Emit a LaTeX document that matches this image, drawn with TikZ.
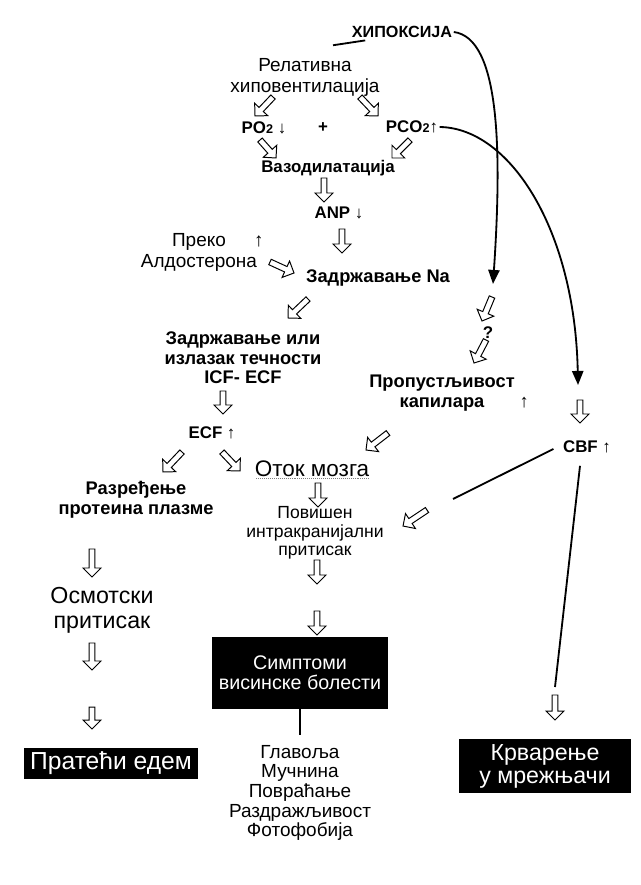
\documentclass[tikz,border=0pt]{standalone}
\usepackage{fontspec}
\setmainfont{Liberation Sans}
\usepackage{tikz}
\usetikzlibrary{arrows.meta,calc}

\newcommand{\fs}[2]{\fontsize{#1pt}{#2pt}\selectfont}
\newcommand{\harrow}[3]{%
  \coordinate (#1a) at (#2);
  \coordinate (#1b) at (#3);
  \draw[hol] ($(#1a)!2.1pt!90:(#1b)$) -- ($(#1b)!6.4pt!(#1a)!2.1pt!-90:(#1a)$)
    -- ($(#1b)!6.4pt!(#1a)!6.4pt!-90:(#1a)$) -- (#1b)
    -- ($(#1b)!6.4pt!(#1a)!6.4pt!90:(#1a)$) -- ($(#1b)!6.4pt!(#1a)!2.1pt!90:(#1a)$)
    -- ($(#1a)!2.1pt!-90:(#1b)$) -- cycle;}

\begin{document}
\begin{tikzpicture}[
  x=0.025cm, y=-0.025cm,
  lab/.style={align=center,inner sep=1pt,font=\fs{13}{14}\bfseries},
  sm/.style={align=center,inner sep=1pt,font=\fs{12}{13}\bfseries},
  txt/.style={align=center,inner sep=1pt,font=\fs{13.5}{15}},
  big/.style={align=center,inner sep=1pt,font=\fs{16.5}{17.7}},
  blk/.style={fill=black,text=white,align=center,inner sep=0pt},
  hol/.style={draw,line width=0.7pt,fill=white},
  ln/.style={line width=1.3pt},
  arr/.style={line width=1.3pt,-{Triangle[length=10pt,width=8pt]}}
]
\fill[white] (0,0) rectangle (640,885);
\useasboundingbox (0,0) rectangle (640,885);

\node[sm,font=\fs{11.5}{12}\bfseries] (hyp) at (402,32) {ХИПОКСИЈА};
\node[txt] (relhyp) at (305,77) {Релативна\\хиповентилација};
\node[sm] (po) at (264,128) {PO{\fs{9}{9}2} ↓};
\node[sm] (plus) at (323,128) {+};
\node[sm] (pco) at (412,127) {PCO{\fs{9}{9}2}↑};
\node[sm] (vaso) at (328,168) {Вазодилатација};
\node[sm] (anp) at (339,213) {ANP ↓};
\node[txt] (aldo) at (199,252) {Преко\rlap{\hspace{20pt}↑}\\Алдостерона};
\node[lab] (na) at (378,278) {Задржавање Na};
\node[lab] (fluid) at (243,358) {Задржавање или\\излазак течности\\ICF- ECF};
\node[sm] (ecf) at (212,433) {ECF ↑};
\node[sm] (ques) at (488,333) {?};
\node[lab] (perm) at (442,393) {Пропустљивост\\капилара\rlap{\hspace{25pt}↑}};
\node[sm] (cbf) at (587,447) {CBF ↑};
\node[big,font=\fs{16}{17}] (otok) at (312,469) {Оток мозга};
\node[lab] (razr) at (136,500) {Разређење\\протеина плазме};
\node[txt,font=\fs{12.5}{13.2}] (icp) at (315,533) {Повишен\\интракранијални\\притисак};
\node[big] (osm) at (102,610) {Осмотски\\притисак};
\node[blk,minimum width=4.4cm,minimum height=1.8cm,font=\fs{14}{14.2}] (symp) at (300,673) {Симптоми\\висинске болести};
\node[txt,font=\fs{13.5}{14}] (list) at (300,793) {Главоља\\Мучнина\\Повраћање\\Раздражљивост\\Фотофобија};
\node[blk,minimum width=4.35cm,minimum height=0.775cm,font=\fs{17.5}{18}] (prat) at (111,763.5) {Пратећи едем};
\node[blk,minimum width=4.3cm,minimum height=1.35cm,font=\fs{16.5}{16.3}] (krv) at (545,766) {Крварење\\у мрежњачи};

\coordinate (hypend) at (493,284);
\coordinate (cbfend) at (578,385);
\coordinate (icpl) at (453,499);
\coordinate (krvl) at (555,687);

\draw[ln] ($(relhyp.north)+(28,-11)$) -- ($(hyp.south west)+(15,1)$);
\draw[arr] (hyp.east) .. controls (500,38) and (502,150) .. (hypend);
\draw[arr] (pco.east) .. controls (510,128) and (575,230) .. (cbfend);
\draw[ln] ($(cbf.west)+(-8,2)$) -- (icpl);
\draw[ln] ($(cbf.south)+(-7,11)$) -- (krvl);
\draw[ln] (symp.south) -- ($(list.north)+(0,-8)$);
\draw[gray,densely dotted] ($(otok.south west)+(3,0)$) -- ($(otok.south east)+(-1,0)$);

\harrow{h1}{273,97}{255,116}
\harrow{h2}{360,97}{378,116}
\harrow{h3}{260,140}{276,158}
\harrow{h4}{410,140}{392,158}
\harrow{h5}{324,178}{324,202}
\harrow{h6}{342,229}{342,253}
\harrow{h7}{270,262}{294,273}
\harrow{h8}{308,299}{288,318}
\harrow{h9}{223,391}{223,414}
\harrow{h10}{182,452}{163,472}
\harrow{h11}{222,452}{240,471}
\harrow{h12}{492,297}{482,321}
\harrow{h13}{486,340}{474,363}
\harrow{h14}{580,400}{580,423}
\harrow{h15}{388,433}{366,450}
\harrow{h16}{318,483}{318,507}
\harrow{h17}{427,510}{403,526}
\harrow{h18}{317,560}{317,584}
\harrow{h19}{317,611}{317,635}
\harrow{h20}{92,549}{92,577}
\harrow{h21}{92,643}{92,670}
\harrow{h22}{92,707}{92,729}
\harrow{h23}{555,695}{555,720}
\end{tikzpicture}
\end{document}
